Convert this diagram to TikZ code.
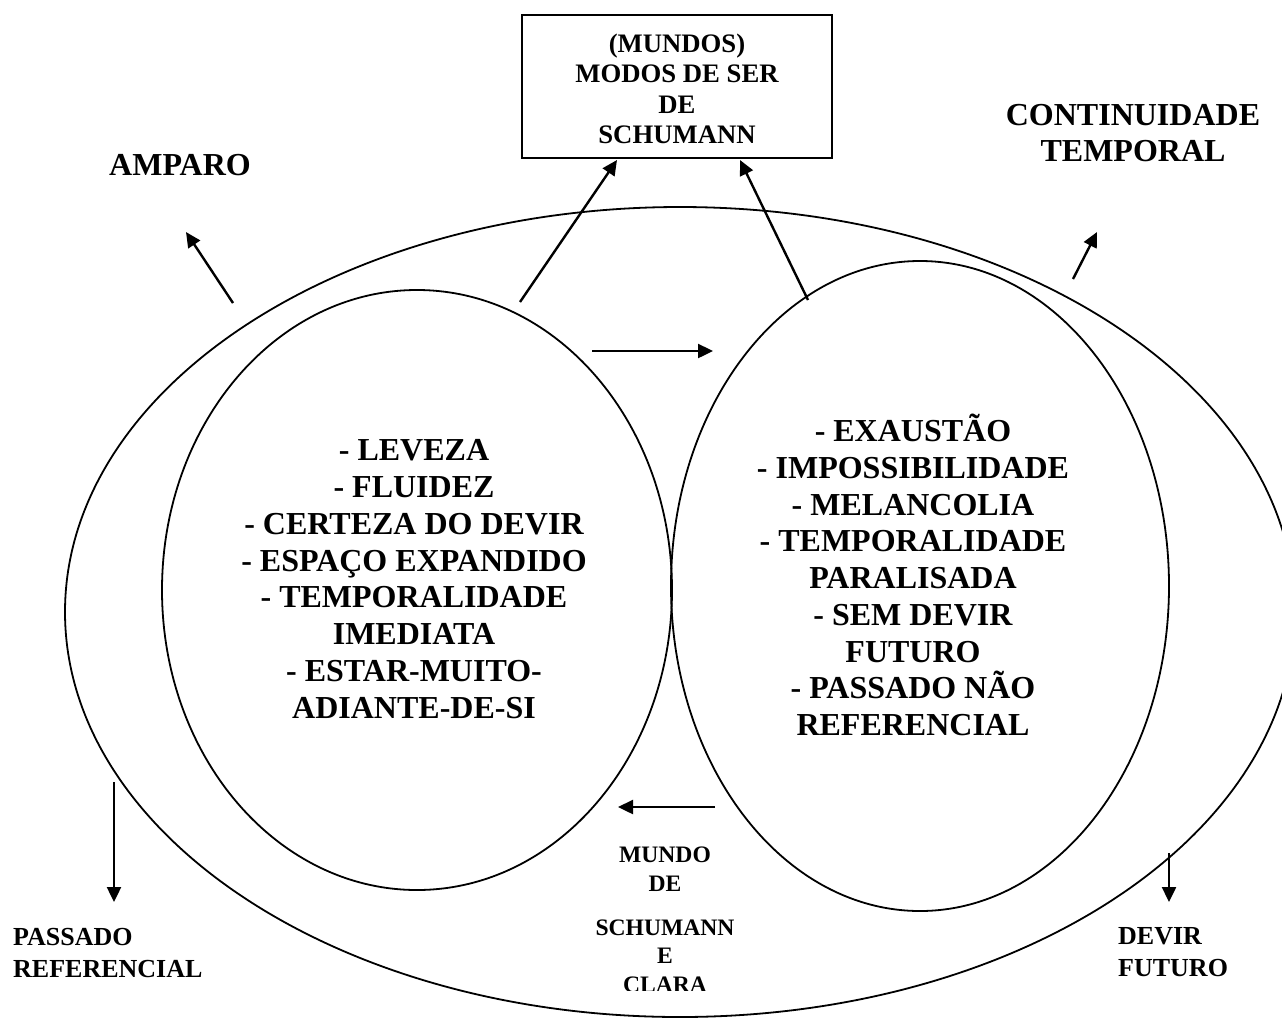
\documentclass[tikz,border=0pt]{standalone}
\usepackage{fontspec}
\setmainfont{Liberation Serif}
\usetikzlibrary{arrows.meta,shapes.geometric}
\begin{document}
\begin{tikzpicture}[x=1pt,y=-1pt,
  ring/.style={draw,ellipse,line width=1.8pt,inner sep=0pt},
  arr/.style={line width=2.4pt,-{Triangle[length=15pt,width=14pt]}},
  bigtext/.style={font=\fontsize{32}{36.8}\selectfont\bfseries,align=center,inner sep=0pt},
  boxtext/.style={font=\fontsize{26.7}{30.5}\selectfont\bfseries,align=center,inner sep=0pt},
  sidetext/.style={font=\fontsize{26}{32}\selectfont\bfseries,align=left,inner sep=0pt,anchor=west},
  smalltext/.style={font=\fontsize{23.6}{28.5}\selectfont\bfseries,align=center,inner sep=0pt}]
\useasboundingbox (0,0) rectangle (1282,1021);
\fill[white] (0,0) rectangle (1282,1021);

% outer world and the two inner worlds
\node[ring,minimum width=1230pt,minimum height=810pt] (outer) at (680,612) {};
\node[ring,minimum width=510pt,minimum height=600pt] (leftw) at (417,590) {};
\node[ring,minimum width=498pt,minimum height=650pt] (rightw) at (920,586) {};

% title box
\node[draw,line width=1.6pt,minimum width=310pt,minimum height=143pt,inner sep=0pt] (box) at (677,86.5) {};
\node[boxtext] (boxlbl) at (677,89) {(MUNDOS)\\MODOS DE SER\\DE\\SCHUMANN};

% corner labels
\node[bigtext] (amparo) at (180,165) {AMPARO};
\node[bigtext] (contin) at (1133,133) {CONTINUIDADE\\TEMPORAL};
\node[sidetext] (passado) at (13,953) {PASSADO\\REFERENCIAL};
\node[sidetext] (devir) at (1118,952) {DEVIR\\FUTURO};

% bottom label, cut at the lower edge of its frame
\node[smalltext] (mundo) at (665,869) {MUNDO\\DE};
\begin{scope}
  \clip (500,900) rectangle (830,990);
  \node[smalltext] (schu) at (665,956) {SCHUMANN\\E\\CLARA};
\end{scope}

% contents of the two worlds
\node[bigtext] (lefttxt) at (414,579) {- LEVEZA\\- FLUIDEZ\\- CERTEZA DO DEVIR\\- ESPAÇO EXPANDIDO\\- TEMPORALIDADE\\IMEDIATA\\- ESTAR-MUITO-\\ADIANTE-DE-SI};
\node[bigtext] (righttxt) at (913,575) {- EXAUSTÃO\\- IMPOSSIBILIDADE\\- MELANCOLIA\\- TEMPORALIDADE\\PARALISADA\\- SEM DEVIR\\FUTURO\\- PASSADO NÃO\\REFERENCIAL};

% arrow end points
\coordinate (l0) at (520,302);
\coordinate (l1) at (617,160);
\coordinate (r0) at (808,300);
\coordinate (r1) at (740,160);
\coordinate (a0) at (233,303);
\coordinate (a1) at (186,232);
\coordinate (c0) at (1073,279);
\coordinate (c1) at (1097,232);
\coordinate (h0) at (592,351);
\coordinate (h1) at (713,351);
\coordinate (g0) at (715,807);
\coordinate (g1) at (618,807);
\coordinate (p0) at (114,782);
\coordinate (p1) at (114,902);
\coordinate (d0) at (1169,853);
\coordinate (d1) at (1169,902);

\draw[arr] (l0) -- (l1);
\draw[arr] (r0) -- (r1);
\draw[arr] (a0) -- (a1);
\draw[arr] (c0) -- (c1);
\draw[arr] (h0) -- (h1);
\draw[arr] (g0) -- (g1);
\draw[arr] (p0) -- (p1);
\draw[arr] (d0) -- (d1);
\end{tikzpicture}
\end{document}
